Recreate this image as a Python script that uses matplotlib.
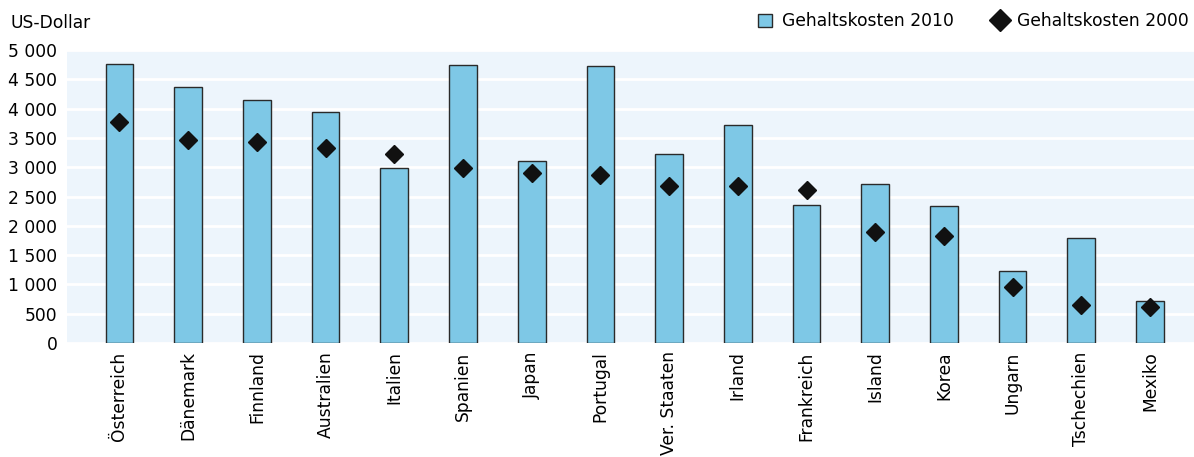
import numpy as np
import matplotlib
matplotlib.use('Agg')
import matplotlib.pyplot as plt
from matplotlib.lines import Line2D
from matplotlib.patches import Patch
from matplotlib.ticker import FuncFormatter

countries = ['Österreich', 'Dänemark', 'Finnland', 'Australien', 'Italien', 'Spanien',
             'Japan', 'Portugal', 'Ver. Staaten', 'Irland', 'Frankreich', 'Island',
             'Korea', 'Ungarn', 'Tschechien', 'Mexiko']
kosten_2010 = [4760, 4362, 4140, 3946, 2991, 4738, 3105, 4721, 3219, 3720, 2360, 2707,
               2337, 1223, 1797, 717]
kosten_2000 = [3770, 3463, 3424, 3321, 3219, 2991, 2906, 2866, 2673, 2673, 2611, 1888,
               1825, 955, 654, 609]

plt.rcParams['font.family'] = ['DejaVu Sans']
fs = 12.3

bar_color = '#7ec8e6'
bg_color = '#edf5fc'

fig = plt.figure(figsize=(11.94, 4.57), dpi=100)
ax = fig.add_axes([0.0561, 0.2495, 0.9439, 0.641])
ax.set_facecolor(bg_color)

x = np.arange(len(countries))
ax.bar(x, kosten_2010, width=0.403, color=bar_color, edgecolor='#2a2a2a', linewidth=1.0, zorder=3)
ax.plot(x, kosten_2000, linestyle='none', marker='D', markersize=8.7, color='#111111', zorder=4)

ax.set_xlim(-0.764, len(countries) - 1 + 0.64)
ax.set_ylim(0, 5000)
ax.set_yticks(np.arange(0, 5001, 500))
ax.yaxis.set_major_formatter(FuncFormatter(lambda v, p: f'{int(v):,}'.replace(',', ' ')))
ax.grid(axis='y', color='white', linewidth=2, zorder=1)
ax.set_axisbelow(True)
for s in ax.spines.values():
    s.set_visible(False)

ax.set_xticks(x)
ax.set_xticklabels(countries, rotation=90, fontsize=fs)
ax.tick_params(axis='both', length=0, labelsize=fs)
ax.tick_params(axis='y', pad=7)
ax.tick_params(axis='x', pad=6)

fig.text(10 / 1194, 1 - 23 / 457, 'US-Dollar', fontsize=fs, ha='left', va='center')

handles = [Patch(facecolor=bar_color, edgecolor='#2a2a2a', linewidth=1.0),
           Line2D([], [], linestyle='none', marker='D', markersize=11, color='#111111')]
fig.legend(handles, ['Gehaltskosten 2010', 'Gehaltskosten 2000'], ncol=2, frameon=False,
           loc='center right', bbox_to_anchor=(1189 / 1194, 1 - 21 / 457), fontsize=fs,
           borderpad=0, borderaxespad=0,
           handlelength=0.8, handleheight=0.8, handletextpad=0.6, columnspacing=2.3)

fig.savefig('out.png', dpi=100)
